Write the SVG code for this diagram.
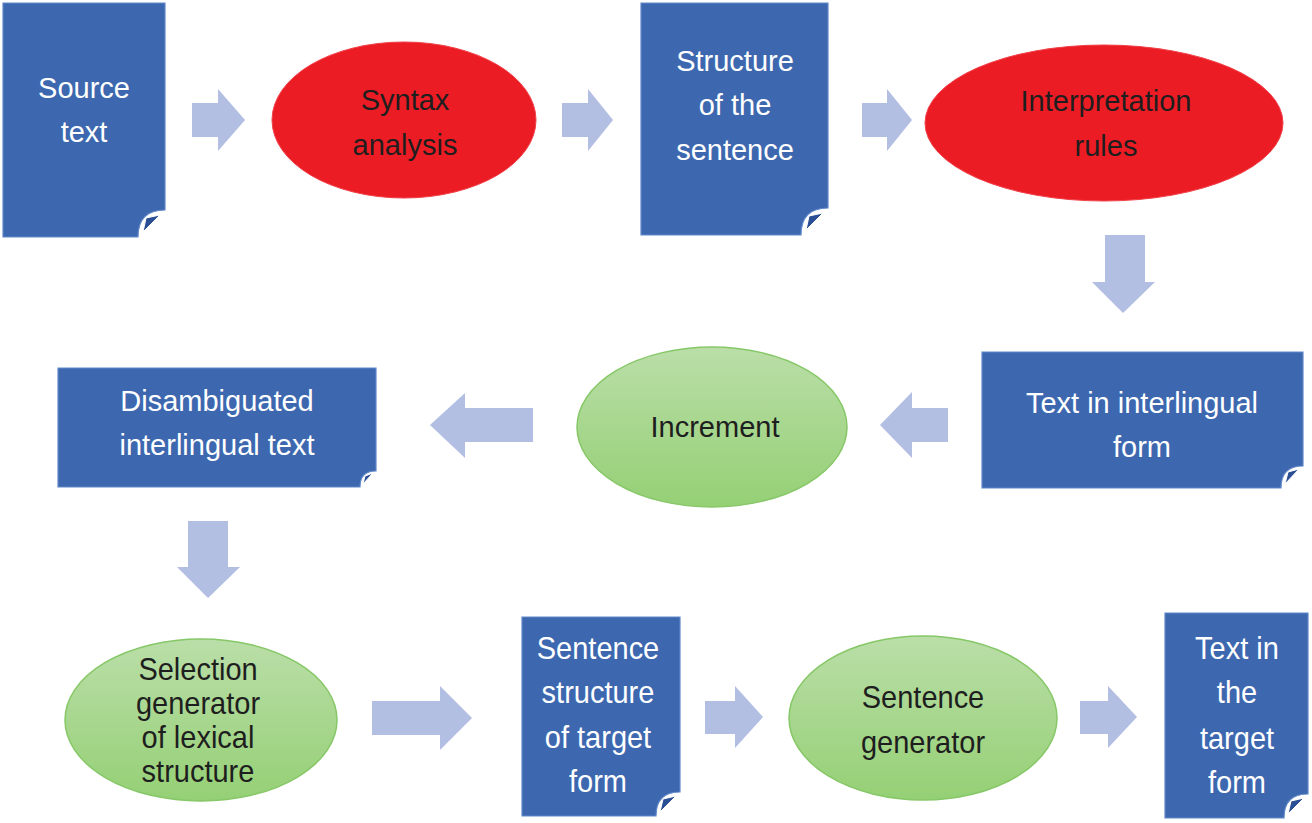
<svg xmlns="http://www.w3.org/2000/svg" width="1312" height="823" viewBox="0 0 1312 823">
<defs>
<linearGradient id="green" x1="0" y1="0" x2="0" y2="1">
<stop offset="0" stop-color="#badea8"/>
<stop offset="1" stop-color="#95d075"/>
</linearGradient>
</defs>
<style>
.doc{fill:#3d68b0;stroke:#6189c9;stroke-width:1.2}
.fold{fill:#2a4f94;stroke:#ffffff;stroke-width:1;stroke-linejoin:round}
.red{fill:#ec1c24;stroke:#f04048;stroke-width:1}
.grn{fill:url(#green);stroke:#86c767;stroke-width:1.5}
.arr{fill:#b2bee2}
text{font-family:"Liberation Sans",Arial,sans-serif;font-size:29px;text-anchor:middle}
.w{fill:#ffffff}
.k{fill:#1e1e1e}
</style>
<rect width="1312" height="823" fill="#ffffff"/>

<g id="connectors">
<path class="arr" d="M192,103 H218 V89 L245,120 L218,151 V137 H192 Z"/>
<path class="arr" d="M562,103 H588 V89 L613,120 L588,151 V137 H562 Z"/>
<path class="arr" d="M862,103 H887 V89 L912,120 L887,151 V137 H862 Z"/>
<path class="arr" d="M1105,235 H1145 V282 H1155 L1123,313 L1092,282 H1105 Z"/>
<path class="arr" d="M948,408 H912 V392 L880,425 L912,458 V442 H948 Z"/>
<path class="arr" d="M533,408 H465 V393 L430,425 L465,458 V442 H533 Z"/>
<path class="arr" d="M188,521 H228 V567 H240 L208,598 L177,567 H188 Z"/>
<path class="arr" d="M372,701 H440 V686 L472,718 L440,750 V735 H372 Z"/>
<path class="arr" d="M705,701 H735 V686 L763,717 L735,748 V734 H705 Z"/>
<path class="arr" d="M1080,701 H1108 V686 L1137,717 L1108,748 V734 H1080 Z"/>
</g>

<g id="source-text">
<path class="doc" d="M3,3 H165 V210 Q138,210 138,237 H3 Z"/>
<path class="fold" d="M146,218 L160,215 L143,232 Z"/>
<text class="w" x="84" y="98">Source</text>
<text class="w" x="84" y="142">text</text>
</g>

<g id="syntax-analysis">
<ellipse class="red" cx="404" cy="120" rx="132" ry="78"/>
<text class="k" x="405" y="110">Syntax</text>
<text class="k" x="405" y="155">analysis</text>
</g>

<g id="structure-sentence">
<path class="doc" d="M641,3 H828 V208 Q801,208 801,235 H641 Z"/>
<path class="fold" d="M809,216 L823,213 L806,230 Z"/>
<text class="w" x="735" y="71">Structure</text>
<text class="w" x="735" y="115">of the</text>
<text class="w" x="735" y="160">sentence</text>
</g>

<g id="interpretation-rules">
<ellipse class="red" cx="1104" cy="123" rx="179" ry="78"/>
<text class="k" x="1106" y="111">Interpretation</text>
<text class="k" x="1106" y="156">rules</text>
</g>

<g id="text-interlingual">
<path class="doc" d="M982,352 H1303 V466 Q1281,466 1281,488 H982 Z"/>
<path class="fold" d="M1288,472 L1299,469 L1285,484 Z"/>
<text class="w" x="1142" y="413">Text in interlingual</text>
<text class="w" x="1142" y="457">form</text>
</g>

<g id="increment">
<ellipse class="grn" cx="712" cy="427" rx="135" ry="80"/>
<text class="k" x="715" y="437">Increment</text>
</g>

<g id="disambiguated">
<path class="doc" d="M58,368 H376 V471 Q360,471 360,487 H58 Z"/>
<path class="fold" d="M365,476 L373,473 L363,484 Z"/>
<text class="w" x="217" y="411">Disambiguated</text>
<text class="w" x="217" y="455">interlingual text</text>
</g>

<g id="selection-generator">
<ellipse class="grn" cx="201" cy="720" rx="136" ry="81"/>
<text class="k" transform="translate(198,680) scale(1,1.1)">Selection</text>
<text class="k" transform="translate(198,714) scale(1,1.1)">generator</text>
<text class="k" transform="translate(198,748) scale(1,1.1)">of lexical</text>
<text class="k" transform="translate(198,782) scale(1,1.1)">structure</text>
</g>

<g id="sentence-structure-target">
<path class="doc" d="M522,617 H680 V792 Q656,792 656,816 H522 Z"/>
<path class="fold" d="M663,799 L676,796 L660,812 Z"/>
<text class="w" transform="translate(598,659) scale(1,1.1)">Sentence</text>
<text class="w" transform="translate(598,703) scale(1,1.1)">structure</text>
<text class="w" transform="translate(598,748) scale(1,1.1)">of target</text>
<text class="w" transform="translate(598,792) scale(1,1.1)">form</text>
</g>

<g id="sentence-generator">
<ellipse class="grn" cx="923" cy="718" rx="134" ry="82"/>
<text class="k" transform="translate(923,708) scale(1,1.1)">Sentence</text>
<text class="k" transform="translate(923,753) scale(1,1.1)">generator</text>
</g>

<g id="text-target-form">
<path class="doc" d="M1165,613 H1308 V794 Q1284,794 1284,818 H1165 Z"/>
<path class="fold" d="M1291,801 L1304,798 L1288,814 Z"/>
<text class="w" transform="translate(1237,659) scale(1,1.1)">Text in</text>
<text class="w" transform="translate(1237,703) scale(1,1.1)">the</text>
<text class="w" transform="translate(1237,749) scale(1,1.1)">target</text>
<text class="w" transform="translate(1237,793) scale(1,1.1)">form</text>
</g>
</svg>
